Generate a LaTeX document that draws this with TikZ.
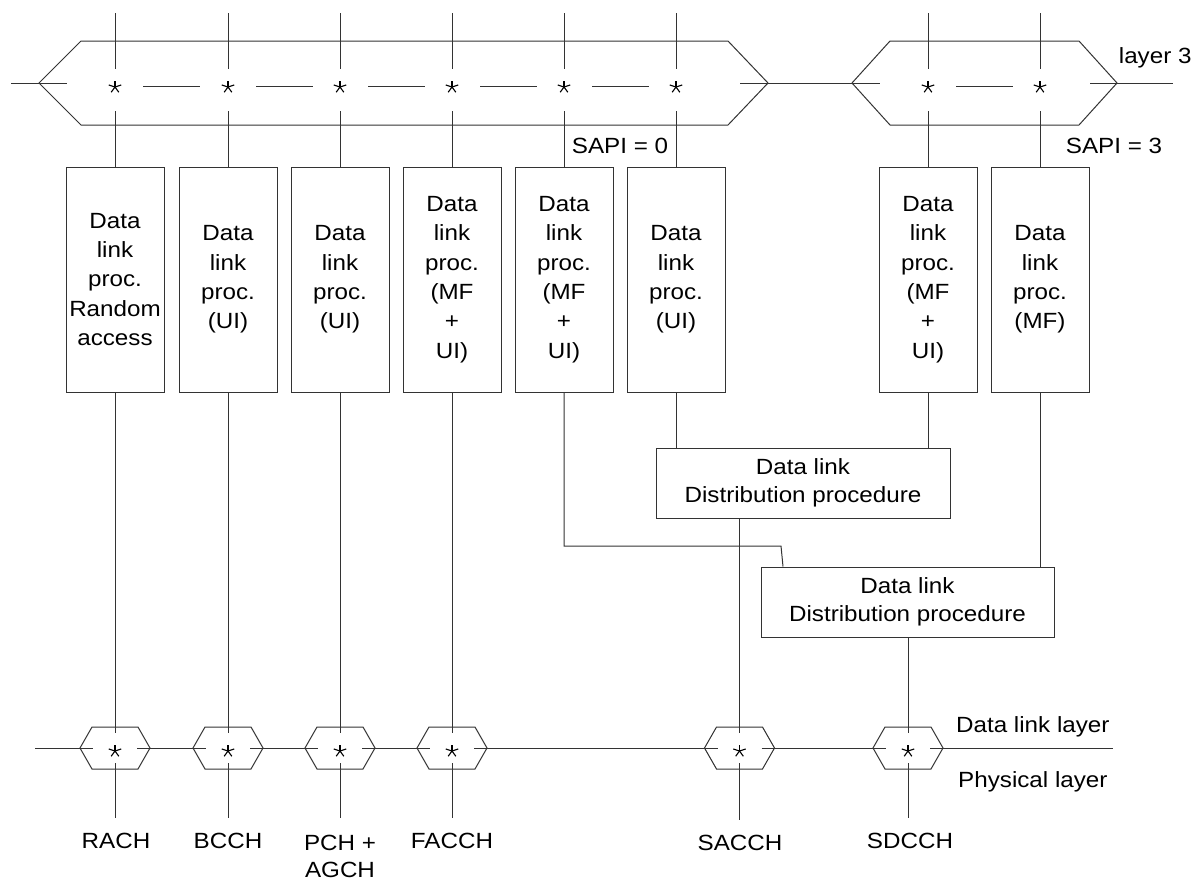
\documentclass[tikz,border=0pt]{standalone}
\usepackage{fontspec}
\setmainfont{Liberation Sans}[FakeStretch=1.1]
\begin{document}
\begin{tikzpicture}[x=1pt,y=-1pt,line width=1pt,color=black!80,
  txt/.style={font=\fontsize{22}{29.3}\selectfont,inner sep=0pt,text=black},
  dlbox/.style={txt,draw=black!80,minimum width=98pt,minimum height=225pt,align=center},
  distbox/.style={txt,draw=black!80,minimum width=294pt,minimum height=70pt,align=center,font=\fontsize{22}{28}\selectfont},
  astk/.pic={\foreach \a in {-90,-18,54,126,198} \draw[line width=1.1pt,black] (0,0) -- (\a:6.5);},
  bhex/.pic={
    \draw[fill=white] (-35,0) -- (-23,-21) -- (23,-21) -- (35,0) -- (23,21) -- (-23,21) -- cycle;
    \draw (-35,0) -- (-22,0); \draw (22,0) -- (35,0);
    \draw (0,-21) -- (0,-15); \draw (0,15) -- (0,21);
    \pic at (0,3) {astk};}
]
\useasboundingbox (0,0) rectangle (1196,881);

% ---- layer 3 hexagons
\draw (39,83) -- (81,41) -- (728,41) -- (768,83) -- (728,125) -- (81,125) -- cycle;
\draw (852,83) -- (890,41) -- (1079,41) -- (1117,83) -- (1079,125) -- (890,125) -- cycle;
\draw (11,83) -- (67,83);
\draw (740,83) -- (880,83);
\draw (1090,83) -- (1173,83);

\foreach \n/\x in {1/115,2/228,3/340,4/452,5/564,6/676,7/928,8/1040}{
  \coordinate (t\n) at (\x,87);
  \pic at (t\n) {astk};
  \draw ([yshift=74pt]t\n) -- ++(0,56);
}
\foreach \s in {115,228,340,452,564,928}{
  \draw (\s+28,86) -- (\s+85,86);
}

\node[txt,anchor=base east] (l3) at (1192,63) {layer 3};
\node[txt,anchor=base] (sapi0) at (620,153) {SAPI = 0};
\node[txt,anchor=base] (sapi3) at (1114,153) {SAPI = 3};

% ---- data link procedure boxes
\node[dlbox] (b1) at (115,279.5) {Data\\link\\proc.\\Random\\access};
\node[dlbox] (b2) at (228,279.5) {Data\\link\\proc.\\(UI)};
\node[dlbox] (b3) at (340,279.5) {Data\\link\\proc.\\(UI)};
\node[dlbox] (b4) at (452,279.5) {Data\\link\\proc.\\(MF\\+\\UI)};
\node[dlbox] (b5) at (564,279.5) {Data\\link\\proc.\\(MF\\+\\UI)};
\node[dlbox] (b6) at (676,279.5) {Data\\link\\proc.\\(UI)};
\node[dlbox] (b7) at (928,279.5) {Data\\link\\proc.\\(MF\\+\\UI)};
\node[dlbox] (b8) at (1040,279.5) {Data\\link\\proc.\\(MF)};

\foreach \n in {1,...,8}{
  \draw (b\n.north) -- ++(0,-56);
}

% ---- distribution boxes
\node[distbox] (d1) at (803,483) {Data link\\Distribution procedure};
\node[distbox,minimum width=293pt] (d2) at (907.5,602) {Data link\\Distribution procedure};

% ---- bottom hexagon positions
\coordinate (h1) at (115,748);
\coordinate (h2) at (228,748);
\coordinate (h3) at (340,748);
\coordinate (h4) at (452,748);
\coordinate (h5) at (739.5,748);
\coordinate (h6) at (908,748);

% connectors
\draw (b6.south) -- (b6.south |- d1.north);
\draw (b7.south) -- (b7.south |- d1.north);
\draw (b8.south) -- (b8.south |- d2.north);
\coordinate (k1) at (781,546);
\draw (b5.south) |- (k1) -- ([xshift=2pt]k1 |- d2.north);
\foreach \n in {1,2,3,4}{ \draw (b\n.south) -- (h\n); }
\draw (h5 |- d1.south) -- (h5);
\draw (h6 |- d2.south) -- (h6);

% main line and down lines
\draw (35,748) -- (1113,748);
\foreach \n in {1,2,3,4,6}{ \draw (h\n) -- ([yshift=-70pt]h\n); }
\draw (h5) -- ([yshift=-72pt]h5);
\foreach \n in {1,...,6}{ \pic at (h\n) {bhex}; }

\node[txt,anchor=base east] (dll) at (1110,732) {Data link layer};
\node[txt,anchor=base east] (phl) at (1108,787) {Physical layer};

\node[txt,anchor=base] (c1) at (116,848) {RACH};
\node[txt,anchor=base] (c2) at (228,848) {BCCH};
\node[txt,align=center,font=\fontsize{22}{27}\selectfont] (c3) at (340,856) {PCH +\\AGCH};
\node[txt,anchor=base] (c4) at (452,848) {FACCH};
\node[txt,anchor=base] (c5) at (740,850) {SACCH};
\node[txt,anchor=base] (c6) at (910,848) {SDCCH};
\end{tikzpicture}
\end{document}
